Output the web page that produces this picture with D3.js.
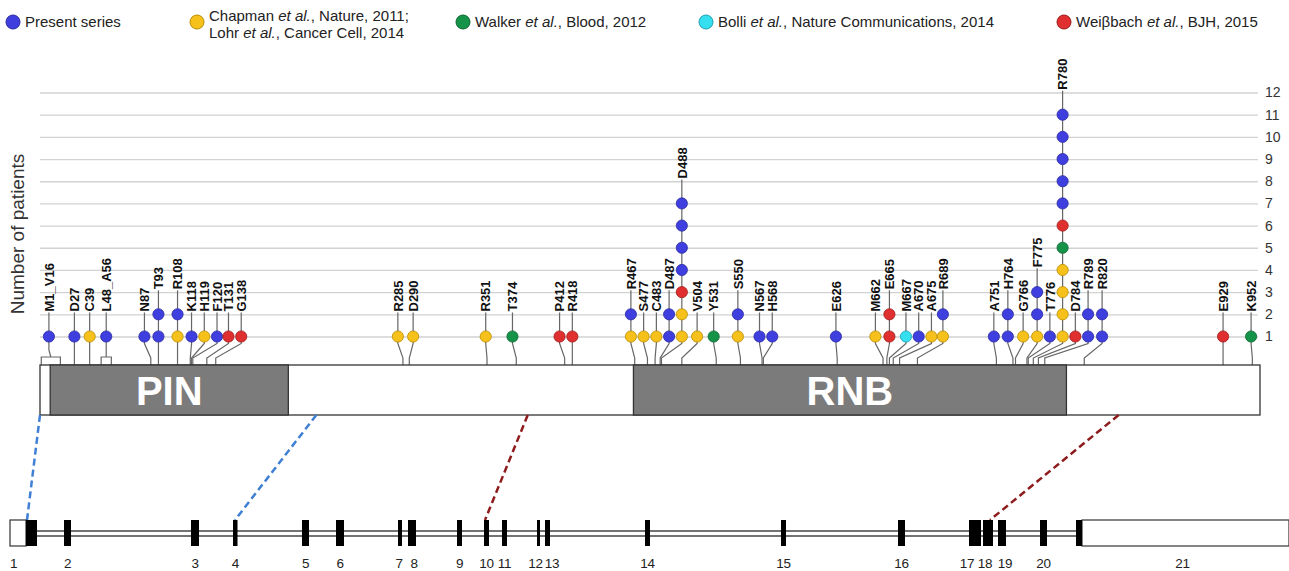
<!DOCTYPE html>
<html>
<head>
<meta charset="utf-8">
<script src="https://cdn.jsdelivr.net/npm/d3@7"></script>
<style>
  body { margin: 0; background: #fff; }
  svg { font-family: Arial, "Liberation Sans", sans-serif; }
</style>
</head>
<body>
<script>
// mutation labels (residue numbers are parsed from the label)
var mutLabels = ["M1_V16", "D27", "C39", "L48_A56", "N87", "T93", "R108", "K118", "H119", "F120",
  "T131", "G138", "R285", "D290", "R351", "T374", "P412", "R418", "R467", "S477",
  "C483", "D487", "D488", "V504", "Y531", "S550", "N567", "H568", "E626", "M662",
  "E665", "M667", "A670", "A675", "R689", "A751", "H764", "G766", "F775", "T776",
  "R780", "D784", "R789", "R820", "E929", "K952"];
// where the lollipop head is drawn (residue units, spread out so labels fit)
var mutDisplay = [7, 27, 39, 52, 82, 93, 108, 119, 129, 139,
  148, 158, 281, 293, 350, 371, 408, 418, 464, 474,
  484, 494, 504, 516, 529, 548, 565, 575, 625, 656,
  667, 680, 690, 700, 709, 749, 760, 772, 783, 793,
  803, 813, 823, 834, 929, 951];

// patients per mutation, one array per study
var presentSeries = [1, 1, 0, 1, 1, 2, 1, 1, 0, 1, 0, 0, 0, 0, 0, 0, 0, 0, 1, 0,
  0, 2, 4, 0, 0, 1, 1, 1, 1, 0, 0, 0, 1, 0, 1, 1, 2, 0, 2, 1, 5, 0, 2, 2, 0, 0];
var chapmanSeries = [0, 0, 1, 0, 0, 0, 1, 0, 1, 0, 0, 0, 1, 1, 1, 0, 0, 0, 1, 1,
  1, 0, 2, 1, 0, 1, 0, 0, 0, 1, 0, 0, 0, 1, 1, 0, 0, 1, 1, 0, 4, 0, 0, 0, 0, 0];
var walkerSeries = [0, 0, 0, 0, 0, 0, 0, 0, 0, 0, 0, 0, 0, 0, 0, 1, 0, 0, 0, 0,
  0, 0, 0, 0, 1, 0, 0, 0, 0, 0, 0, 0, 0, 0, 0, 0, 0, 0, 0, 0, 1, 0, 0, 0, 0, 1];
var bolliSeries = [0, 0, 0, 0, 0, 0, 0, 0, 0, 0, 0, 0, 0, 0, 0, 0, 0, 0, 0, 0,
  0, 0, 0, 0, 0, 0, 0, 0, 0, 0, 0, 1, 0, 0, 0, 0, 0, 0, 0, 0, 0, 0, 0, 0, 0, 0];
var weissbachSeries = [0, 0, 0, 0, 0, 0, 0, 0, 0, 0, 1, 1, 0, 0, 0, 0, 1, 1, 0, 0,
  0, 0, 1, 0, 0, 0, 0, 0, 0, 0, 2, 0, 0, 0, 0, 0, 0, 0, 0, 0, 1, 1, 0, 0, 1, 0];

var legendNames = ["Present series",
  "Chapman et al., Nature, 2011;|Lohr et al., Cancer Cell, 2014",
  "Walker et al., Blood, 2012",
  "Bolli et al., Nature Communications, 2014",
  "Weiβbach et al., BJH, 2015"];

var yTicks = [1, 2, 3, 4, 5, 6, 7, 8, 9, 10, 11, 12];

// protein
var proteinLength = 958;
var domainNames = ["PIN", "RNB"];
var domainStart = [8, 466];
var domainEnd = [195, 806];

// gene structure (relative gene units)
var exonNames = ["1", "2", "3", "4", "5", "6", "7", "8", "9", "10", "11", "12", "13", "14", "15",
  "16", "17", "18", "19", "20", "21"];
var exonStart = [16, 54, 181, 223, 292, 326, 388, 398, 447, 474, 492, 527, 535, 635, 771,
  888, 959, 973, 988, 1030, 1066];
var exonEnd = [27, 61, 189, 227.5, 299, 334, 392, 406, 452, 479, 497, 530, 540, 640, 776,
  895, 971, 983, 996, 1037, 1072];
var utrStart = [0, 1072];
var utrEnd = [16, 1279];
var geneLength = 1279;

// dashed links protein residue -> gene position
var linkResidue = [0, 217, 383, 847];
var linkGene = [17, 225, 475, 980];
var linkGroup = ["PIN", "PIN", "RNB", "RNB"];

function main() {
  var width = 1289, height = 571;

  var svg = d3.select("body").append("svg")
    .attr("width", width)
    .attr("height", height);

  var seriesOrder = [chapmanSeries, walkerSeries, bolliSeries, weissbachSeries, presentSeries];
  var seriesFill = ["#f6c11b", "#159349", "#36dff0", "#e02f2f", "#3f3fe0"];
  var seriesStroke = ["#b98c00", "#0c6630", "#1b9fb1", "#9e1a1a", "#2929a0"];
  // legend order differs from stack order
  var legendFill = ["#3f3fe0", "#f6c11b", "#159349", "#36dff0", "#e02f2f"];
  var legendStroke = ["#2929a0", "#b98c00", "#0c6630", "#1b9fb1", "#9e1a1a"];

  var x = d3.scaleLinear().domain([0, proteinLength]).range([40, 1260]);
  var y = d3.scaleLinear().domain([1, 12]).range([336.5, 92.5]);
  var xg = d3.scaleLinear().domain([0, geneLength]).range([10, 1289]);

  var boxTop = 365, boxH = 50;
  var geneTop = 520, geneH = 26;

  // grid + right axis
  var axis = d3.axisRight(y).tickValues(yTicks).tickSize(-(1258 - 40)).tickPadding(7);
  var ga = svg.append("g").attr("transform", "translate(1258,0)").call(axis);
  ga.select(".domain").remove();
  ga.selectAll(".tick line").attr("stroke", "#d2d2d2").attr("stroke-width", 1.3);
  ga.selectAll(".tick text").attr("fill", "#333").style("font-size", "14px")
    .style("font-family", "Arial, 'Liberation Sans', sans-serif");

  svg.append("text")
    .attr("transform", "translate(24,234) rotate(-90)")
    .attr("text-anchor", "middle")
    .attr("fill", "#333")
    .style("font-size", "19px")
    .text("Number of patients");

  // legend
  var legX = [13, 197, 463, 706, 1064];
  var leg = svg.append("g");
  legendNames.forEach(function (name, i) {
    leg.append("circle")
      .attr("cx", legX[i]).attr("cy", 22).attr("r", 7)
      .attr("fill", legendFill[i]).attr("stroke", legendStroke[i]).attr("stroke-width", 1);
    var lines = name.split("|");
    lines.forEach(function (line, j) {
      var yy = lines.length == 1 ? 27 : 21 + j * 17;
      var t = leg.append("text")
        .attr("x", legX[i] + 12).attr("y", yy)
        .attr("fill", "#222").style("font-size", "15px");
      var parts = line.split("et al.");
      parts.forEach(function (p, k) {
        t.append("tspan").text(p);
        if (k < parts.length - 1) t.append("tspan").style("font-style", "italic").text("et al.");
      });
    });
  });

  // build mutation objects
  var muts = mutLabels.map(function (lab, i) {
    var nums = lab.match(/\d+/g).map(Number);
    var stack = [];
    seriesOrder.forEach(function (s, k) {
      for (var n = 0; n < s[i]; n++) stack.push(k);
    });
    return {
      label: lab,
      start: nums[0],
      end: nums.length > 1 ? nums[1] : nums[0],
      range: nums.length > 1,
      disp: mutDisplay[i],
      stack: stack
    };
  });

  // stems and connectors
  var stems = svg.append("g");
  muts.forEach(function (d) {
    var dx = x(d.disp);
    var ax = x((d.start + d.end) / 2);
    var yTop = y(d.stack.length);
    var p;
    if (d.range) {
      p = "M" + dx + "," + (yTop - 24) + "L" + dx + "," + 350 + "L" + ax + "," + 357;
      stems.append("path")
        .attr("d", "M" + x(d.start) + "," + boxTop + "L" + x(d.start) + "," + 357 +
          "L" + x(d.end) + "," + 357 + "L" + x(d.end) + "," + boxTop)
        .attr("fill", "none").attr("stroke", "#666").attr("stroke-width", 1.2);
    } else {
      p = "M" + dx + "," + (yTop - 24) + "L" + dx + "," + (y(1) + 7) +
        "L" + ax + "," + 358 + "L" + ax + "," + boxTop;
    }
    stems.append("path").attr("d", p)
      .attr("fill", "none").attr("stroke", "#666").attr("stroke-width", 1.2);
  });

  // lollipop heads
  var heads = svg.append("g");
  muts.forEach(function (d) {
    heads.selectAll(null)
      .data(d.stack)
      .enter()
      .append("circle")
      .attr("cx", x(d.disp))
      .attr("cy", function (s, k) { return y(k + 1); })
      .attr("r", 5.6)
      .attr("fill", function (s) { return seriesFill[s]; })
      .attr("stroke", function (s) { return seriesStroke[s]; })
      .attr("stroke-width", 0.8);
  });

  // mutation labels
  svg.append("g").selectAll("text")
    .data(muts)
    .enter()
    .append("text")
    .attr("transform", function (d) {
      return "translate(" + (x(d.disp) + 4.7) + "," + (y(d.stack.length) - 25) + ") rotate(-90)";
    })
    .attr("fill", "#111")
    .style("font-size", "13px")
    .style("font-weight", "bold")
    .text(function (d) { return d.label; });

  // protein box
  svg.append("rect")
    .attr("x", x(0)).attr("y", boxTop)
    .attr("width", x(proteinLength) - x(0)).attr("height", boxH)
    .attr("fill", "#fff").attr("stroke", "#333").attr("stroke-width", 1.3);
  domainNames.forEach(function (name, i) {
    svg.append("rect")
      .attr("x", x(domainStart[i])).attr("y", boxTop)
      .attr("width", x(domainEnd[i]) - x(domainStart[i])).attr("height", boxH)
      .attr("fill", "#7b7b7b").attr("stroke", "#333").attr("stroke-width", 1.3);
    svg.append("text")
      .attr("x", (x(domainStart[i]) + x(domainEnd[i])) / 2)
      .attr("y", boxTop + 40)
      .attr("text-anchor", "middle")
      .attr("fill", "#fff")
      .style("font-size", "40px")
      .style("font-weight", "bold")
      .text(name);
  });

  // dashed links
  linkResidue.forEach(function (r, i) {
    svg.append("line")
      .attr("x1", x(r)).attr("y1", boxTop + boxH)
      .attr("x2", xg(linkGene[i])).attr("y2", geneTop)
      .attr("stroke", linkGroup[i] == "PIN" ? "#3f7fd4" : "#8e1c1c")
      .attr("stroke-width", 2.5)
      .attr("stroke-dasharray", "7,4");
  });

  // gene structure: intron double line
  [geneTop + 11, geneTop + 16].forEach(function (yy) {
    svg.append("line")
      .attr("x1", xg(0)).attr("x2", xg(utrStart[1]))
      .attr("y1", yy).attr("y2", yy)
      .attr("stroke", "#444").attr("stroke-width", 1.6);
  });
  utrStart.forEach(function (s, i) {
    svg.append("rect")
      .attr("x", xg(s)).attr("y", geneTop)
      .attr("width", xg(utrEnd[i]) - xg(s)).attr("height", geneH)
      .attr("fill", "#fff").attr("stroke", "#333").attr("stroke-width", 1.2);
  });
  svg.append("g").selectAll("rect")
    .data(exonStart)
    .enter()
    .append("rect")
    .attr("x", function (d) { return xg(d); })
    .attr("y", geneTop)
    .attr("width", function (d, i) { return xg(exonEnd[i]) - xg(d); })
    .attr("height", geneH)
    .attr("fill", "#000");

  // crowded exon numbers are pushed apart a little, as in the figure
  var nudge = { 6: -1, 7: 2, 11: -3, 12: 4.5, 16: -8, 17: -3, 18: 3 };
  svg.append("g").selectAll("text")
    .data(exonNames)
    .enter()
    .append("text")
    .attr("x", function (d, i) {
      if (i == 0) return xg(utrStart[0]);
      if (i == exonNames.length - 1) return (xg(exonStart[i]) + xg(utrEnd[1])) / 2;
      return (xg(exonStart[i]) + xg(exonEnd[i])) / 2 + (nudge[i] || 0);
    })
    .attr("y", 568)
    .attr("text-anchor", function (d, i) { return i == 0 ? "start" : "middle"; })
    .attr("fill", "#222")
    .style("font-size", "13.5px")
    .style("letter-spacing", "-0.3px")
    .text(function (d) { return d; });
}
main();
</script>
</body>
</html>
